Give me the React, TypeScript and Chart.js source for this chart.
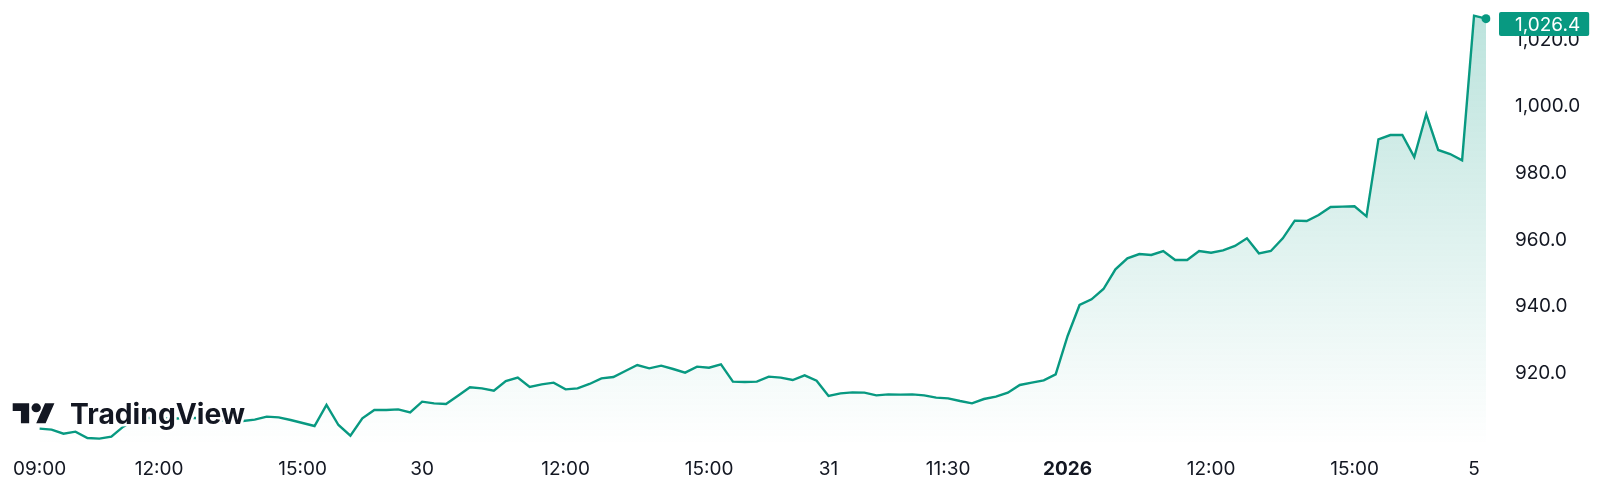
import React, { useEffect, useRef } from "react";
import { Chart, registerables } from "chart.js";

Chart.register(...registerables);

// Price series (15‑minute bars)
const prices: number[] = [
  903.4, 903.1, 901.9, 902.5, 900.6, 900.4, 901.0, 904.0, 906.0, 906.6,
  906.6, 906.3, 906.6, 906.6, 906.3, 906.0, 905.7, 905.7, 906.1, 907.0,
  906.8, 906.0, 905.1, 904.2, 910.5, 904.5, 901.3, 906.5, 909.0, 909.0,
  909.2, 908.3, 911.5, 911.0, 910.8, 913.3, 915.8, 915.5, 914.8, 917.7,
  918.7, 915.9, 916.7, 917.2, 915.2, 915.5, 916.8, 918.5, 918.9, 920.7,
  922.5, 921.5, 922.3, 921.3, 920.2, 922.0, 921.7, 922.7, 917.5, 917.4,
  917.5, 919.0, 918.7, 918.0, 919.4, 917.8, 913.2, 914.0, 914.3, 914.2,
  913.4, 913.7, 913.6, 913.7, 913.4, 912.7, 912.5, 911.7, 911.0, 912.3,
  913.0, 914.2, 916.5, 917.2, 917.9, 919.7, 931.2, 940.5, 942.2, 945.3,
  951.2, 954.5, 955.8, 955.5, 956.7, 954.0, 954.0, 956.7, 956.2, 956.9,
  958.2, 960.5, 956.0, 956.7, 960.5, 965.8, 965.7, 967.5, 969.9, 970.0,
  970.1, 967.1, 990.2, 991.5, 991.5, 984.9, 997.8, 987.0, 985.8, 983.9,
  1027.3, 1026.4,
];

// Time-axis labels and the bar index each one sits on
const xTickText: string[] = ["09:00", "12:00", "15:00", "30", "12:00", "15:00", "31", "11:30", "2026", "12:00", "15:00", "5"];
const xTickIndex: number[] = [0, 10, 22, 32, 44, 56, 66, 76, 86, 98, 110, 120];

// Price-axis ticks and range
const yTicks: number[] = [920, 940, 960, 980, 1000, 1020];
const yMin = 898.5;
const yMax = 1030.5;

const TEAL = "#089981";
const TEXT = "#131722";
const FONT = "Inter, 'Noto Sans', sans-serif";
const FONT_SIZE = 19;

const categories: string[] = prices.map((_, i) => {
  const k = xTickIndex.indexOf(i);
  return k >= 0 ? xTickText[k] : "";
});

const fmt = (v: number) =>
  v.toLocaleString("en-US", { minimumFractionDigits: 1, maximumFractionDigits: 1 });

const lastPriceTag = {
  id: "lastPriceTag",
  afterDraw(chart: any) {
    const ctx = chart.ctx as CanvasRenderingContext2D;
    const area = chart.chartArea;
    const ys = chart.scales.y;
    const v = prices[prices.length - 1];
    const py = ys.getPixelForValue(v);
    const h = 24;
    const top = Math.max(py - h / 2, 12);
    const label = fmt(v);
    ctx.save();
    ctx.font = `${FONT_SIZE}px ${FONT}`;
    const tw = ctx.measureText(label).width;
    const left = area.right + 13;
    const w = tw + 16 + 9;
    ctx.fillStyle = TEAL;
    ctx.beginPath();
    (ctx as any).roundRect ? (ctx as any).roundRect(left, top, w, h, 2) : ctx.rect(left, top, w, h);
    ctx.fill();
    ctx.fillStyle = "#ffffff";
    ctx.textAlign = "left";
    ctx.textBaseline = "middle";
    ctx.fillText(label, left + 16, top + h / 2 + 1);
    ctx.restore();
  },
};

export default function App() {
  const ref = useRef<HTMLCanvasElement | null>(null);

  useEffect(() => {
    if (!ref.current) return;
    const chart = new Chart(ref.current, {
      type: "line",
      data: {
        labels: categories,
        datasets: [
          {
            data: prices,
            borderColor: TEAL,
            borderWidth: 2.4,
            tension: 0,
            pointRadius: prices.map((_, i) => (i === prices.length - 1 ? 4.5 : 0)),
            pointBackgroundColor: TEAL,
            pointBorderWidth: 0,
            pointHoverRadius: 0,
            fill: "start",
            backgroundColor: (c: any) => {
              const area = c.chart.chartArea;
              if (!area) return "rgba(8,153,129,0.15)";
              const g = c.chart.ctx.createLinearGradient(0, area.top, 0, area.bottom);
              g.addColorStop(0, "rgba(8,153,129,0.28)");
              g.addColorStop(1, "rgba(8,153,129,0)");
              return g;
            },
          },
        ],
      },
      options: {
        animation: false,
        responsive: false,
        devicePixelRatio: 1,
        layout: { padding: { left: 33, top: 5, right: 0, bottom: 0 } },
        plugins: {
          legend: { display: false },
          tooltip: { enabled: false },
        },
        events: [],
        scales: {
          x: {
            type: "category",
            offset: false,
            grid: { display: false, drawTicks: false },
            border: { display: false },
            afterFit: (s: any) => {
              s.height = 57;
            },
            ticks: {
              autoSkip: false,
              maxRotation: 0,
              minRotation: 0,
              padding: 13,
              color: TEXT,
              font: (c: any) => ({
                family: FONT,
                size: FONT_SIZE,
                weight: c.tick && c.tick.label === "2026" ? "bold" : "normal",
              }),
            },
          },
          y: {
            type: "linear",
            position: "right",
            min: yMin,
            max: yMax,
            grid: {
              display: true,
              drawOnChartArea: false,
              drawTicks: true,
              tickLength: 29,
              color: "rgba(0,0,0,0)",
            },
            border: { display: false },
            afterFit: (s: any) => {
              s.width = 114;
              s.paddingTop = 0;
              s.paddingBottom = 0;
            },
            afterBuildTicks: (s: any) => {
              s.ticks = yTicks.map((v) => ({ value: v }));
            },
            ticks: {
              padding: 0,
              color: TEXT,
              font: { family: FONT, size: FONT_SIZE },
              callback: (v: any) => fmt(Number(v)),
            },
          },
        },
      },
      plugins: [lastPriceTag],
    });
    return () => chart.destroy();
  }, []);

  return (
    <div style={{ position: "absolute", left: 0, top: 0, width: 1600, height: 502, background: "#fff", overflow: "hidden" }}>
      <canvas ref={ref} width={1600} height={502} style={{ display: "block" }} />
      <svg
        width={1600}
        height={502}
        style={{ position: "absolute", left: 0, top: 0, pointerEvents: "none" }}
      >
        <g transform="translate(12.7,398.9) scale(1.175,1.11)" fill={TEXT}>
          <path d="M14 22H7V11H0V4h14v18zM28 22h-8l7.5-18h8L28 22z" />
          <circle cx="20" cy="8" r="4" />
        </g>
        <text
          x={70}
          y={423.5}
          fontFamily={FONT}
          fontWeight={700}
          fontSize={28}
          textLength={175}
          lengthAdjust="spacingAndGlyphs"
          fill={TEXT}
          stroke="#ffffff"
          strokeWidth={5}
          strokeLinejoin="round"
          style={{ paintOrder: "stroke" }}
        >
          TradingView
        </text>
      </svg>
    </div>
  );
}
